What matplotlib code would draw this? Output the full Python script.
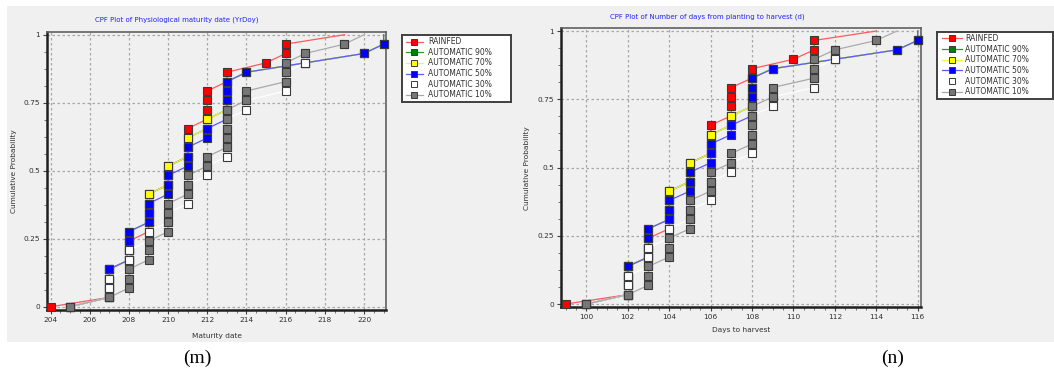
import numpy as np
import matplotlib
matplotlib.use("Agg")
import matplotlib.pyplot as plt
from matplotlib.patches import Rectangle
from matplotlib.ticker import MultipleLocator, FixedLocator

# Simulated maturity dates (day of year), sorted, one list per scenario (30 seasons)
rainfed = [204, 207, 207, 207, 207, 208, 208, 208, 209, 209, 209, 209, 209, 210, 210,
           210, 211, 211, 211, 211, 212, 212, 212, 212, 213, 213, 215, 216, 216, 219]
auto90 = [205, 207, 207, 207, 207, 208, 208, 208, 208, 209, 209, 209, 209, 210, 210,
          210, 211, 211, 211, 212, 212, 213, 213, 213, 213, 214, 217, 220, 221, 221]
auto70 = [205, 207, 207, 207, 207, 208, 208, 208, 208, 209, 209, 209, 209, 210, 210,
          210, 211, 211, 211, 212, 212, 213, 213, 213, 213, 214, 217, 220, 221, 221]
auto50 = [205, 207, 207, 207, 207, 208, 208, 208, 208, 209, 209, 209, 210, 210, 210,
          211, 211, 211, 212, 212, 213, 213, 213, 213, 213, 214, 217, 220, 221, 221]
auto30 = [205, 207, 207, 207, 208, 208, 208, 209, 209, 210, 210, 211, 211, 211, 212,
          212, 213, 213, 213, 213, 213, 214, 214, 216, 216, 216, 217, 217, 219, 220]
auto10 = [205, 207, 208, 208, 208, 209, 209, 209, 210, 210, 210, 210, 211, 211, 211,
          212, 212, 213, 213, 213, 213, 213, 214, 214, 216, 216, 216, 217, 219, 220]

planting_doy = 105

series_names = ["RAINFED", "AUTOMATIC 90%", "AUTOMATIC 70%", "AUTOMATIC 50%",
                "AUTOMATIC 30%", "AUTOMATIC 10%"]
series_values = [rainfed, auto90, auto70, auto50, auto30, auto10]
marker_colors = ["#ff0000", "#008000", "#ffff00", "#0000ff", "#ffffff", "#777777"]
line_colors = ["#ff5a5a", "#2e9a2e", "#f2f24a", "#5a5aff", "#ffffff", "#a8a8a8"]

left_ticks = list(range(204, 221, 2))
right_ticks = list(range(100, 117, 2))
y_ticks = [0, 0.25, 0.5, 0.75, 1]
y_tick_labels = ["0", "0.25", "0.5", "0.75", "1"]

W, H = 1054, 382
fig = plt.figure(figsize=(W / 100, H / 100), dpi=100)
fig.patch.set_facecolor("white")
BG = "#f0f0f0"
fig.patches.append(Rectangle((7 / W, 1 - 342 / H), (W - 7) / W, 336 / H,
                             transform=fig.transFigure, facecolor=BG,
                             edgecolor="none", zorder=-5))


def px_axes(x0, y0, x1, y1):
    return fig.add_axes([x0 / W, 1 - y1 / H, (x1 - x0) / W, (y1 - y0) / H])


def draw_legend(x0, y0, x1, y1, row_y0, row_dy, line_x0, line_x1, text_x):
    """Boxed series key laid out in figure pixel units."""
    lax = px_axes(x0, y0, x1, y1)
    lax.set_xlim(x0, x1)
    lax.set_ylim(y1, y0)
    lax.set_facecolor("white")
    lax.set_xticks([])
    lax.set_yticks([])
    for s in lax.spines.values():
        s.set_color("#404040")
        s.set_linewidth(1.4)
    for i, name in enumerate(series_names):
        ry = row_y0 + i * row_dy
        lax.plot([line_x0, line_x1], [ry, ry], color=line_colors[i], lw=0.9)
        lax.plot([(line_x0 + line_x1) / 2], [ry], marker="s", ms=4.4,
                 markerfacecolor=marker_colors[i], markeredgecolor="#3a3a3a",
                 markeredgewidth=0.7)
        lax.text(text_x, ry, name, fontsize=5.5, color="#303030",
                 ha="left", va="center")


def draw_panel(ax, shift, xlim, xticks, title, xlabel, title_x, title_y,
               ylab_x, xlab_y):
    ax.set_facecolor(BG)
    n = len(series_values[0])
    probs = np.arange(n) / (n - 1)
    for i, (name, vals) in enumerate(zip(series_names, series_values)):
        x = np.asarray(vals) - shift
        ax.plot(x, probs, color=line_colors[i], lw=0.9, marker="s", ms=5.4,
                markerfacecolor=marker_colors[i], markeredgecolor="#3a3a3a",
                markeredgewidth=0.8, markevery=slice(0, n - 1),
                clip_on=False, zorder=4 + i, label=name)
    ax.set_xlim(*xlim)
    ax.set_ylim(-0.012, 1.01)
    ax.xaxis.set_major_locator(FixedLocator(xticks))
    ax.xaxis.set_minor_locator(MultipleLocator(0.5))
    ax.set_yticks(y_ticks)
    ax.set_yticklabels(y_tick_labels)
    ax.yaxis.set_minor_locator(MultipleLocator(0.0625))
    ax.grid(True, which="major", linestyle=(0, (2, 2)), color="#a8a8a8", lw=0.9)
    ax.set_axisbelow(True)
    ax.tick_params(which="major", direction="out", length=3, width=0.8,
                   colors="#404040", labelsize=5.3, pad=2,
                   labelcolor="#303030")
    ax.tick_params(which="minor", direction="out", length=2, width=0.6,
                   colors="#606060")
    for s in ("left", "bottom"):
        ax.spines[s].set_color("#202020")
        ax.spines[s].set_linewidth(1.8)
    for s in ("top", "right"):
        ax.spines[s].set_color("#606060")
        ax.spines[s].set_linewidth(1.2)
    fig.text(title_x / W, 1 - title_y / H, title, color="#2323ff", fontsize=5,
             ha="center", va="center")
    ax.set_ylabel("Cumulative Probability", fontsize=5.3, color="#303030")
    ax.yaxis.set_label_coords(ylab_x, 0.5)
    ax.set_xlabel(xlabel, fontsize=5.3, color="#303030")
    ax.xaxis.set_label_coords(0.5, xlab_y)


ax1 = px_axes(47, 32, 386, 310)
draw_panel(ax1, 0, (203.82, 221.12), left_ticks,
           "CPF Plot of Physiological maturity date (YrDoy)", "Maturity date",
           177, 20, -0.088, -0.083)
draw_legend(401.7, 35, 510.7, 102, 41.7, 10.6, 405.7, 423.3, 428.3)

ax2 = px_axes(560.7, 28.3, 921, 307.3)
draw_panel(ax2, planting_doy, (98.76, 116.16), right_ticks,
           "CPF Plot of Number of days from planting to harvest (d)",
           "Days to harvest", 707, 17, -0.085, -0.07)
draw_legend(936.7, 32, 1052.7, 99, 38.3, 10.7, 941.7, 961.7, 965)

fig.text(197 / W, 1 - 358 / H, "(m)", fontsize=14, family="Liberation Serif",
         ha="center", va="center")
fig.text(893 / W, 1 - 358 / H, "(n)", fontsize=14, family="Liberation Serif",
         ha="center", va="center")

fig.savefig("out.png", dpi=100, facecolor="white")
